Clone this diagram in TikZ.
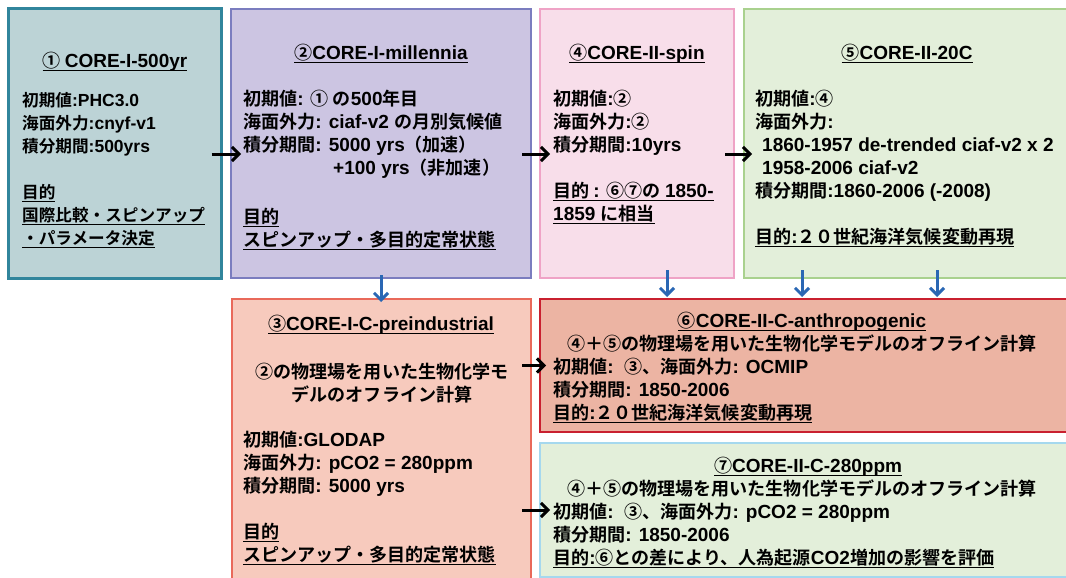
\documentclass[tikz,border=0pt]{standalone}
\usepackage{fontspec}
\setmainfont{Liberation Sans}
\newfontfamily\jpfont{Noto Sans CJK JP}[Scale=0.95, BoldFont={* Bold}]
\usetikzlibrary{arrows.meta}
\newcount\jpcnt
\newXeTeXintercharclass\jpclass
\def\setjprange#1#2{\jpcnt=#1\relax\loop\XeTeXcharclass\jpcnt=\jpclass\relax\ifnum\jpcnt<#2\relax\advance\jpcnt by 1\relax\repeat}
\setjprange{"2460}{"24FF}
\setjprange{"3000}{"30FF}
\setjprange{"4E00}{"9FFF}
\setjprange{"FF00}{"FFEF}
\XeTeXinterchartoks 0 \jpclass = {\jpfont}
\XeTeXinterchartoks 4095 \jpclass = {\jpfont}
\XeTeXinterchartoks \jpclass 0 = {\rmfamily}
\XeTeXinterchartoks 4095 0 = {\rmfamily}
\XeTeXinterchartokenstate=1
\newcommand\ulin[1]{\leavevmode\setbox0\hbox{#1}\rlap{\rule[-3.5pt]{\wd0}{1.1pt}}\box0}
\definecolor{f1}{HTML}{BCD3D6}\definecolor{s1}{HTML}{31859C}
\definecolor{f2}{HTML}{CCC5E2}\definecolor{s2}{HTML}{7B7DBF}
\definecolor{f4}{HTML}{F8DEEA}\definecolor{s4}{HTML}{EFA3C6}
\definecolor{f5}{HTML}{E3EFDA}\definecolor{s5}{HTML}{A9D18E}
\definecolor{f3}{HTML}{F7CABD}\definecolor{s3}{HTML}{E9695A}
\definecolor{f6}{HTML}{ECB4A3}\definecolor{s6}{HTML}{C9202F}
\definecolor{f7}{HTML}{E3EFDA}\definecolor{s7}{HTML}{A5D8EE}
\definecolor{arrblue}{HTML}{2A67B4}
\tikzset{
  every node/.style={font=\bfseries\fontsize{19}{23}\selectfont},
  box/.style={draw, line width=2.5pt, inner sep=0pt, outer sep=0pt, anchor=north west},
  ttl/.style={anchor=base, inner sep=0pt},
  ctr/.style={anchor=base, inner sep=0pt, align=center},
  body/.style={anchor=base west, inner sep=0pt, align=left},
  blk/.style={line width=3pt, black, -{Straight Barb[length=7pt,width=14pt]}},
  blu/.style={line width=3pt, arrblue, -{Straight Barb[length=7pt,width=14pt]}}
}
\begin{document}
\begin{tikzpicture}[x=1pt,y=-1pt]
\clip (0,0) rectangle (1066,578);
\fill[white] (0,0) rectangle (1066,578);
% boxes
\node[box, fill=f1, draw=s1, minimum width=213pt, minimum height=270pt] (b1) at (8.5,8.5) {};
\node[box, fill=f2, draw=s2, minimum width=300pt, minimum height=269pt] (b2) at (231,9) {};
\node[box, fill=f4, draw=s4, minimum width=194pt, minimum height=269pt] (b4) at (540,9) {};
\node[box, fill=f5, draw=s5, minimum width=330pt, minimum height=269pt] (b5) at (744,9) {};
\node[box, fill=f3, draw=s3, minimum width=299pt, minimum height=286pt] (b3) at (232,299) {};
\node[box, fill=f6, draw=s6, minimum width=534pt, minimum height=133pt] (b6) at (540,299) {};
\node[box, fill=f7, draw=s7, minimum width=534pt, minimum height=134pt] (b7) at (540,443) {};
% box 1 (multi-line nodes are placed by the baseline of their last line)
\node[ttl] (t1) at (115,67.5) {\ulin{① CORE-I-500yr}};
\node[body, font=\bfseries\fontsize{17.5}{23}\selectfont] (c1) at (22,244.5) {初期値:PHC3.0\\海面外力:cnyf-v1\\積分期間:500yrs\\[23pt]\ulin{目的}\\\ulin{国際比較・スピンアップ}\\\ulin{・パラメータ決定}};
% box 2
\node[ttl] (t2) at (381,59.5) {\ulin{②CORE-I-millennia}};
\node[body] (c2) at (243,246.5) {初期値: ① の500年目\\海面外力: ciaf-v2 の月別気候値\\積分期間: 5000 yrs（加速）\\\hspace*{90pt}+100 yrs（非加速）\\[26pt]\ulin{目的}\\\ulin{スピンアップ・多目的定常状態}};
% box 4
\node[ttl] (t4) at (637,59.5) {\ulin{④CORE-II-spin}};
\node[body] (c4) at (553,220.5) {初期値:②\\海面外力:②\\積分期間:10yrs\\[23pt]\ulin{目的 : ⑥⑦の 1850-}\\\ulin{1859 に相当}};
% box 5
\node[ttl] (t5) at (907,59.5) {\ulin{⑤CORE-II-20C}};
\node[body] (c5) at (755,243.5) {初期値:④\\海面外力:\\\hspace*{7pt}1860-1957 de-trended ciaf-v2 x 2\\\hspace*{7pt}1958-2006 ciaf-v2\\積分期間:1860-2006 (-2008)\\[23pt]\ulin{目的:２０世紀海洋気候変動再現}};
% box 3
\node[ttl] (t3) at (381,330.5) {\ulin{③CORE-I-C-preindustrial}};
\node[ctr] (m3) at (382,401.5) {②の物理場を用いた生物化学モ\\デルのオフライン計算};
\node[body] (c3) at (243,561.5) {初期値:GLODAP\\海面外力: pCO2 = 280ppm\\積分期間: 5000 yrs\\[23pt]\ulin{目的}\\\ulin{スピンアップ・多目的定常状態}};
% box 6
\node[ttl] (t6) at (802,327.5) {\ulin{⑥CORE-II-C-anthropogenic}};
\node[ctr] (m6) at (802,350.5) {④＋⑤の物理場を用いた生物化学モデルのオフライン計算};
\node[body] (c6) at (553,419.5) {初期値:\ \ ③、海面外力: OCMIP\\積分期間: 1850-2006\\\ulin{目的:２０世紀海洋気候変動再現}};
% box 7
\node[ttl] (t7) at (808,472.5) {\ulin{⑦CORE-II-C-280ppm}};
\node[ctr] (m7) at (802,495.5) {④＋⑤の物理場を用いた生物化学モデルのオフライン計算};
\node[body] (c7) at (553,564.5) {初期値:\ \ ③、海面外力: pCO2 = 280ppm\\積分期間: 1850-2006\\\ulin{目的:⑥との差により、人為起源CO2増加の影響を評価}};
% black arrows
\draw[blk] ([xshift=-10pt,yshift=-10.5pt]b1.east) -- ([xshift=10pt,yshift=-10.5pt]b2.west);
\draw[blk] ([xshift=-9pt,yshift=-10.5pt]b2.east) -- ([xshift=10pt,yshift=-10.5pt]b4.west);
\draw[blk] ([xshift=-9pt,yshift=-10.5pt]b4.east) -- ([xshift=8pt,yshift=-10.5pt]b5.west);
\draw[blk] ([xshift=-9pt]b3.east |- b6.west) -- ([xshift=6pt]b6.west);
\draw[blk] ([xshift=-9pt]b3.east |- b7.west) -- ([xshift=10pt]b7.west);
% blue arrows
\draw[blu] ([yshift=3pt]b2.south) -- ([xshift=-0.5pt,yshift=-3pt]b3.north);
\draw[blu] ([xshift=30pt,yshift=8pt]b4.south) -- ([xshift=-140pt,yshift=2pt]b6.north);
\draw[blu] ([xshift=-107pt,yshift=8pt]b5.south) -- ([xshift=-5pt,yshift=2pt]b6.north);
\draw[blu] ([xshift=28pt,yshift=8pt]b5.south) -- ([xshift=130pt,yshift=2pt]b6.north);
\end{tikzpicture}
\end{document}
